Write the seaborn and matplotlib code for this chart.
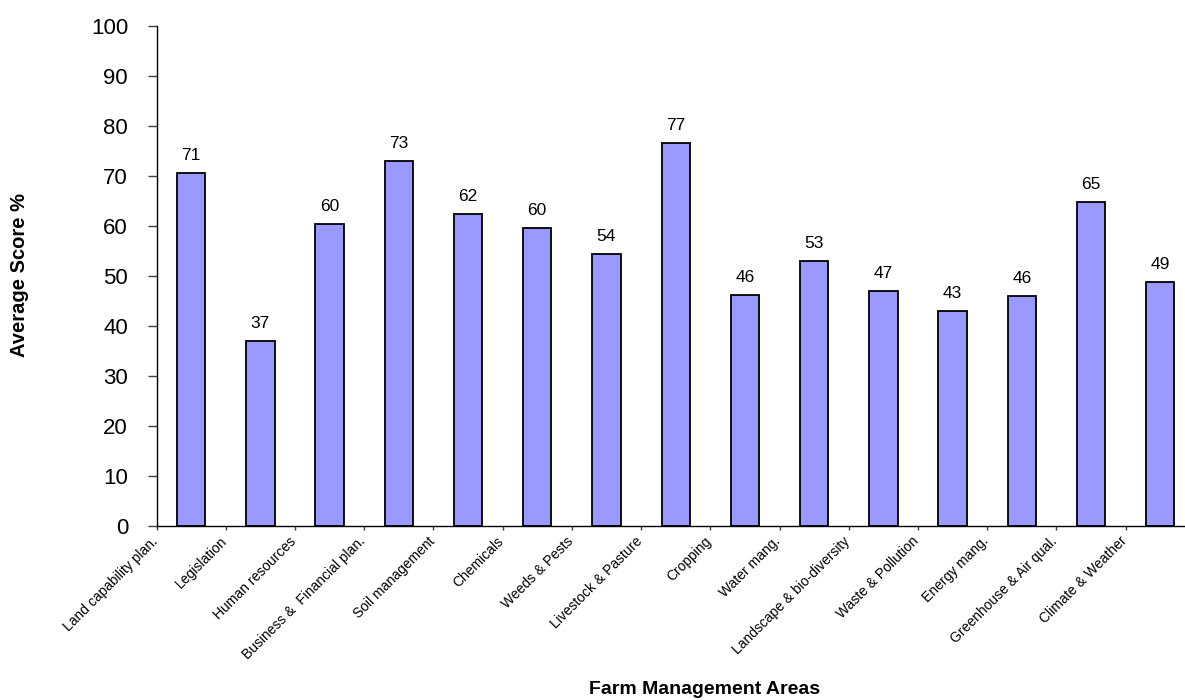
import numpy as np
import pandas as pd
import matplotlib
matplotlib.use("Agg")
import matplotlib.pyplot as plt
import matplotlib.transforms as mtransforms
import seaborn as sns

categories = [
    "Land capability plan.", "Legislation", "Human resources",
    "Business &  Financial plan.", "Soil management", "Chemicals",
    "Weeds & Pests", "Livestock & Pasture", "Cropping", "Water mang.",
    "Landscape & bio-diversity", "Waste & Pollution", "Energy mang.",
    "Greenhouse & Air qual.", "Climate & Weather",
]
values = [70.6, 37.0, 60.3, 72.9, 62.4, 59.6, 54.4, 76.6, 46.1, 53.0,
          46.9, 42.9, 45.9, 64.7, 48.7]
y_ticks = list(range(0, 101, 10))

sns.set_style("ticks")
plt.rcParams["font.family"] = ["Liberation Sans", "DejaVu Sans"]
plt.rcParams["text.color"] = "black"
plt.rcParams["axes.labelcolor"] = "black"
plt.rcParams["xtick.color"] = "black"
plt.rcParams["ytick.color"] = "black"

df = pd.DataFrame({"area": categories, "score": values})

fig = plt.figure(figsize=(11.85, 7.0), dpi=100)
W, H = 1185, 700
left_px, right_px, top_px, bottom_px = 156.5, 1194.9, 25.7, 525.7
ax = fig.add_axes([left_px / W, 1 - bottom_px / H,
                   (right_px - left_px) / W, (bottom_px - top_px) / H])

sns.barplot(data=df, x="area", y="score", color="#9999FF", saturation=1,
            edgecolor="black", linewidth=1.3, width=0.41, ax=ax)

ax.bar_label(ax.containers[0], labels=[f"{v:.0f}" for v in values],
             padding=7, fontsize=12.5, color="black")

ax.set_ylim(0, 100)
ax.set_xlim(-0.5, len(categories) - 0.5)
ax.set_yticks(y_ticks)
ax.set_yticklabels([str(t) for t in y_ticks], fontsize=16)
ax.set_xticks(np.arange(len(categories)) - 0.5)
ax.set_xticklabels(categories, rotation=45, ha="right",
                   rotation_mode="anchor", fontsize=10)

ax.tick_params(axis="y", length=6.5, width=1, pad=14, color="#404040",
               labelcolor="black")
ax.tick_params(axis="x", length=3, width=1, pad=3, color="#404040",
               labelcolor="black")

offset = mtransforms.ScaledTranslation(-6 / 100, 0, fig.dpi_scale_trans)
for lbl in ax.get_xticklabels():
    lbl.set_transform(lbl.get_transform() + offset)

for s in ["top", "right"]:
    ax.spines[s].set_visible(False)
for s in ["left", "bottom"]:
    ax.spines[s].set_color("black")
    ax.spines[s].set_linewidth(1)

ax.set_xlabel("Farm Management Areas", fontsize=14, fontweight="bold",
              color="black")
ax.set_ylabel("Average Score %", fontsize=14.5, fontweight="bold",
              color="black")
ax.xaxis.set_label_coords((705 - left_px) / (right_px - left_px),
                          (bottom_px - 690) / (bottom_px - top_px))
ax.yaxis.set_label_coords((20 - left_px) / (right_px - left_px),
                          (bottom_px - 275) / (bottom_px - top_px))
ax.xaxis.label.set_va("center")
ax.yaxis.label.set_va("center")

ax.grid(False)
fig.savefig("out.png", dpi=100)
